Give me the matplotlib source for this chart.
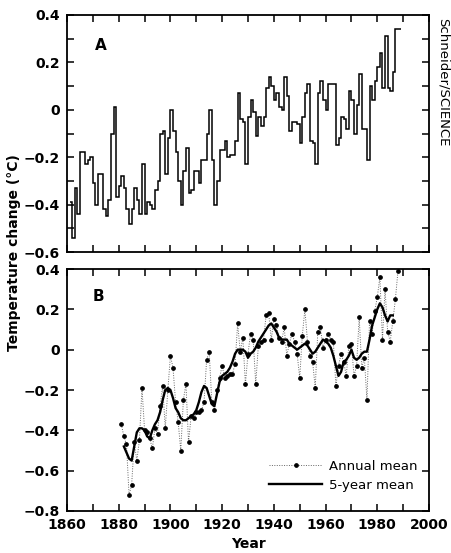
import numpy as np
import matplotlib.pyplot as plt
from matplotlib.ticker import MultipleLocator, FuncFormatter

# panel A: annual global temperature change, 1861-1988 (step curve)
a_start = 1861
a_vals = [
    -0.39, -0.54, -0.33, -0.44, -0.18, -0.18, -0.23, -0.21, -0.20, -0.31,
    -0.40, -0.27, -0.27, -0.42, -0.45, -0.38, -0.10, 0.01, -0.37, -0.32,
    -0.28, -0.33, -0.42, -0.48, -0.42, -0.33, -0.38, -0.44, -0.23, -0.44,
    -0.39, -0.40, -0.42, -0.34, -0.30, -0.10, -0.09, -0.27, -0.12, 0.00,
    -0.09, -0.18, -0.30, -0.40, -0.26, -0.16, -0.35, -0.34, -0.26, -0.26,
    -0.31, -0.21, -0.21, -0.10, 0.00, -0.21, -0.40, -0.30, -0.17, -0.17,
    -0.13, -0.20, -0.19, -0.19, -0.13, 0.07, -0.04, -0.05, -0.23, -0.03,
    0.04, -0.01, -0.11, -0.03, -0.07, -0.03, 0.09, 0.14, 0.10, 0.04,
    0.07, 0.01, 0.00, 0.14, 0.06, -0.09, -0.05, -0.05, -0.06, -0.14,
    -0.03, 0.07, 0.11, -0.13, -0.14, -0.23, 0.07, 0.12, 0.04, 0.00,
    0.11, 0.11, 0.11, -0.15, -0.12, -0.03, -0.04, -0.08, 0.08, 0.04,
    -0.10, 0.02, 0.15, -0.08, -0.08, -0.21, 0.10, 0.04, 0.12, 0.18,
    0.24, 0.09, 0.31, 0.09, 0.08, 0.16, 0.34, 0.34,
]

# panel B: annual mean 1881-1988
b_start = 1881
b_annual = [
    -0.37, -0.43, -0.47, -0.72, -0.67, -0.46, -0.55, -0.45, -0.19, -0.40,
    -0.41, -0.44, -0.49, -0.39, -0.42, -0.28, -0.18, -0.39, -0.20, -0.03,
    -0.09, -0.26, -0.36, -0.50, -0.25, -0.17, -0.46, -0.33, -0.34, -0.31,
    -0.31, -0.30, -0.26, -0.05, -0.01, -0.26, -0.30, -0.20, -0.14, -0.08,
    -0.14, -0.13, -0.12, -0.12, -0.07, 0.13, -0.01, 0.06, -0.17, -0.02,
    0.08, 0.05, -0.17, 0.02, 0.04, 0.05, 0.17, 0.18, 0.05, 0.15,
    0.12, 0.06, 0.04, 0.11, -0.03, 0.03, 0.08, 0.04, -0.02, -0.14,
    0.07, 0.20, 0.04, -0.03, -0.06, -0.19, 0.09, 0.11, 0.01, 0.05,
    0.08, 0.05, 0.04, -0.18, -0.08, -0.02, -0.06, -0.13, 0.02, 0.03,
    -0.13, -0.08, 0.16, -0.09, -0.04, -0.25, 0.14, 0.08, 0.19, 0.26,
    0.36, 0.05, 0.30, 0.09, 0.04, 0.14, 0.25, 0.39,
]

# panel B: 5-year mean 1882-1986
m_start = 1882
b_mean5 = [
    -0.48, -0.51, -0.54, -0.55, -0.48, -0.41, -0.39, -0.39,
    -0.40, -0.43, -0.44, -0.40, -0.37, -0.35, -0.31, -0.25, -0.20, -0.19,
    -0.20, -0.24, -0.29, -0.31, -0.34, -0.35, -0.35, -0.34, -0.33, -0.32,
    -0.30, -0.26, -0.21, -0.18, -0.19, -0.23, -0.27, -0.28, -0.22, -0.16,
    -0.13, -0.12, -0.11, -0.09, -0.06, -0.02, 0.00, 0.00, 0.00, -0.01,
    -0.04, -0.02, -0.01, 0.01, 0.04, 0.06, 0.08, 0.10, 0.12, 0.13,
    0.11, 0.09, 0.06, 0.05, 0.05, 0.05, 0.03, 0.02, 0.01, 0.00,
    0.01, 0.02, 0.03, 0.02, 0.00, -0.02, -0.01, 0.01, 0.03, 0.05,
    0.04, 0.03, 0.01, -0.03, -0.08, -0.13, -0.11, -0.06, -0.05, -0.03,
    0.00, -0.04, -0.05, -0.04, -0.02, -0.01, -0.01, 0.05, 0.12, 0.16,
    0.20, 0.23, 0.21, 0.17, 0.14, 0.17, 0.17,
]

a_years = np.arange(a_start, a_start + len(a_vals) + 1)
b_years = np.arange(b_start, b_start + len(b_annual))
m_years = np.arange(m_start, m_start + len(b_mean5))

plt.rcParams['font.family'] = ['DejaVu Sans']


def fmt(v, pos):
    if abs(v) < 1e-9:
        return '0'
    return ('%.1f' % v).replace('-', '\u2212')


def style(ax):
    for s in ax.spines.values():
        s.set_linewidth(1.3)
    ax.tick_params(which='both', direction='in', top=True, right=True,
                   width=1.1, pad=5)
    ax.tick_params(which='major', length=5)
    ax.tick_params(which='minor', length=5)
    ax.set_xlim(1860, 2000)
    ax.xaxis.set_major_locator(MultipleLocator(10))
    ax.yaxis.set_major_locator(MultipleLocator(0.2))
    ax.yaxis.set_major_formatter(FuncFormatter(fmt))


def bold_labels(ax):
    for lab in ax.get_yticklabels() + ax.get_xticklabels():
        lab.set_fontweight('bold')
        lab.set_fontsize(10)


fig = plt.figure(figsize=(4.51, 5.53), dpi=100)
axA = fig.add_axes([67 / 451, 1 - 252 / 553, 362 / 451, 237 / 553])
axB = fig.add_axes([67 / 451, 1 - 511 / 553, 362 / 451, 242 / 553])

# panel A
axA.stairs(a_vals, a_years, baseline=None, color='black', lw=1.1)
axA.set_ylim(-0.6, 0.4)
style(axA)
axA.yaxis.set_minor_locator(MultipleLocator(0.1))
axA.set_xticks(np.arange(1860, 2001, 10))
axA.set_xticklabels([])
axA.set_yticks(np.arange(-0.6, 0.41, 0.2))
bold_labels(axA)
axA.text(1873, 0.27, 'A', fontsize=11, fontweight='bold', ha='center', va='center')

# panel B
axB.plot(b_years, b_annual, color='0.4', lw=0.7, linestyle=(0, (1, 1.5)),
         marker='o', markersize=2.4, markerfacecolor='black',
         markeredgecolor='black', label='Annual mean')
axB.plot(m_years, b_mean5, color='black', lw=1.7, label='5-year mean')
axB.set_ylim(-0.8, 0.4)
style(axB)
axB.set_yticks(np.arange(-0.8, 0.41, 0.2))
axB.set_xticks(np.arange(1860, 2001, 20))
axB.set_xticks(np.arange(1860, 2001, 10), minor=True)
bold_labels(axB)
axB.text(1872, 0.265, 'B', fontsize=11, fontweight='bold', ha='center', va='center')
axB.legend(loc='lower right', bbox_to_anchor=(1.0, 0.03), frameon=False,
           fontsize=9.5, handlelength=4.0, handletextpad=0.5,
           labelspacing=0.45, numpoints=1)
axB.set_xlabel('Year', fontsize=10, fontweight='bold', labelpad=4)

fig.text(0.031, 1 - 253 / 553, 'Temperature change (\u00b0C)', rotation=90,
         fontsize=10, fontweight='bold', ha='center', va='center')
fig.text(443 / 451, 1 - 82 / 553, 'Schneider/SCIENCE', rotation=270,
         fontsize=9.5, ha='center', va='center')

fig.savefig('out.png', dpi=100)
